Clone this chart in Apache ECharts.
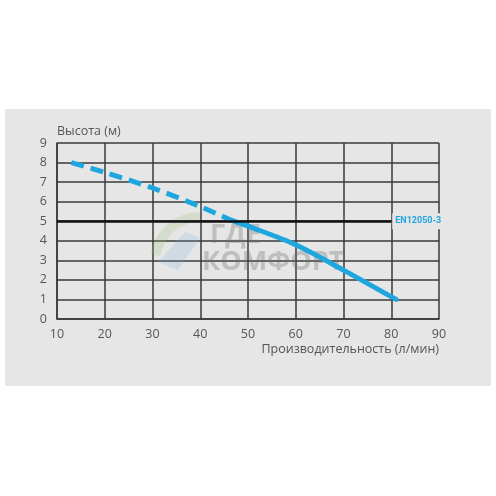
<!DOCTYPE html>
<html>
<head>
<meta charset="utf-8">
<script src="https://cdn.jsdelivr.net/npm/echarts@6/dist/echarts.min.js"></script>
<style>
  html, body { margin: 0; padding: 0; background: #ffffff; }
  #chart { width: 496px; height: 496px; }
</style>
</head>
<body>
<div id="chart"></div>
<script>
// curve: dashed part, then solid part
const dashedX = [13, 20, 30, 40, 46]
const dashedY = [8, 7.5, 6.7, 5.75, 5.1]
const solidX = [46, 50, 60, 70, 81]
const solidY = [5.1, 4.75, 3.8, 2.5, 1]
// standard level line
const levelX = [10, 80]
const levelY = 5
const levelLabel = 'EN12050-3'

const blue = '#1fa6de'
const font = '"Open Sans", sans-serif'

const pairs = (xs, ys) => xs.map((x, i) => [x, ys[i]])

const chart = echarts.init(document.getElementById('chart'))
chart.setOption({
  backgroundColor: '#ffffff',
  animation: false,
  graphic: [
    { type: 'rect', z: -10, shape: { x: 5, y: 109, width: 486, height: 277 }, style: { fill: '#e6e6e7' } },
    // faint logo of the watermark
    { type: 'sector', z: 1, shape: { cx: 200, cy: 262, r: 50, r0: 40, startAngle: Math.PI * 1.05, endAngle: Math.PI * 1.5 }, style: { fill: 'rgba(150,190,110,0.22)' } },
    { type: 'polygon', z: 1, shape: { points: [[158, 262], [185, 232], [200, 238], [178, 270]] }, style: { fill: 'rgba(120,170,210,0.2)' } },
    { type: 'text', z: 1, left: 210, top: 222, style: { text: 'ГДЕ', font: 'bold 27px "Open Sans", sans-serif', fill: 'rgba(110,110,110,0.32)' } },
    { type: 'text', z: 1, left: 202, top: 249, style: { text: 'КОМФОРТ', font: 'bold 27px "Open Sans", sans-serif', fill: 'rgba(110,110,110,0.32)' } }
  ],
  grid: { left: 57, right: 57, top: 143, bottom: 177 },
  xAxis: {
    type: 'value',
    min: 10,
    max: 90,
    interval: 10,
    name: 'Производительность (л/мин)',
    nameLocation: 'end',
    nameGap: 0,
    nameTextStyle: { color: '#555', fontFamily: font, fontSize: 12.5, align: 'right', verticalAlign: 'top', padding: [24, 0, 0, 0] },
    axisLine: { show: true, lineStyle: { color: '#3a3a3a', width: 1.5 } },
    axisTick: { show: false },
    axisLabel: { color: '#555', fontFamily: font, fontSize: 12.5, margin: 9 },
    splitLine: { show: true, lineStyle: { color: '#3a3a3a', width: 1.5 } }
  },
  yAxis: {
    type: 'value',
    min: 0,
    max: 9,
    interval: 1,
    name: 'Высота (м)',
    nameLocation: 'end',
    nameGap: 12,
    nameTextStyle: { color: '#555', fontFamily: font, fontSize: 12.5, align: 'left', verticalAlign: 'middle' },
    axisLine: { show: true, lineStyle: { color: '#3a3a3a', width: 1.5 } },
    axisTick: { show: false },
    axisLabel: { color: '#555', fontFamily: font, fontSize: 12.5, margin: 10 },
    splitLine: { show: true, lineStyle: { color: '#3a3a3a', width: 1.5 } }
  },
  series: [
    {
      type: 'line',
      data: [],
      z: 3,
      markLine: {
        symbol: ['none', 'none'],
        silent: true,
        lineStyle: { color: '#111', width: 2.5, type: 'solid' },
        label: {
          show: true,
          position: 'end',
          distance: 1,
          formatter: levelLabel,
          color: blue,
          fontWeight: 'bold',
          fontSize: 9,
          fontFamily: '"Liberation Sans Narrow", "Roboto", sans-serif',
          backgroundColor: '#e6e6e7',
          padding: [4, 3, 3, 3]
        },
        data: [[{ coord: [levelX[0], levelY] }, { coord: [levelX[1], levelY] }]]
      }
    },
    {
      type: 'line',
      data: pairs(dashedX, dashedY),
      smooth: 0.3,
      showSymbol: false,
      z: 4,
      lineStyle: { color: blue, width: 5, type: [13, 7], cap: 'butt' }
    },
    {
      type: 'line',
      data: pairs(solidX, solidY),
      smooth: 0.3,
      showSymbol: false,
      z: 4,
      lineStyle: { color: blue, width: 5, cap: 'round' }
    }
  ]
})
</script>
</body>
</html>
